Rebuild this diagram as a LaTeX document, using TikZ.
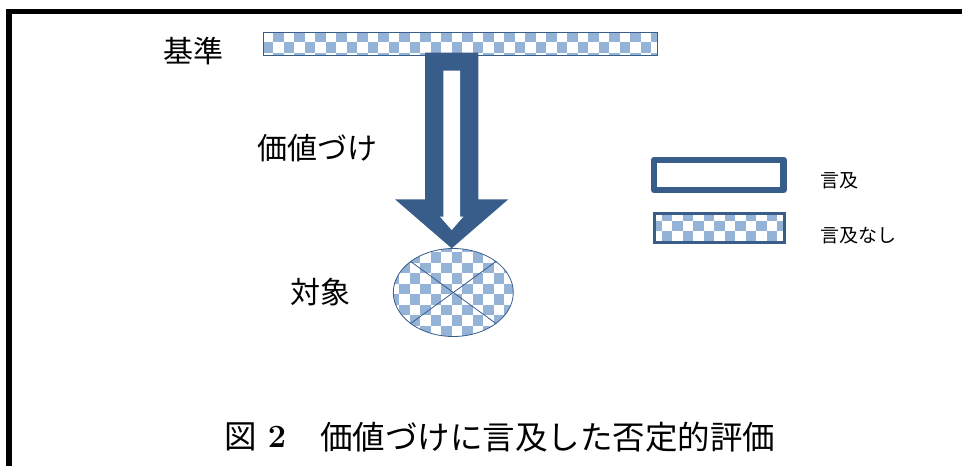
\documentclass[tikz,border=0pt]{standalone}
\usepackage{fontspec}
\newfontfamily\jp{Noto Sans CJK JP}
\usetikzlibrary{shapes.geometric}
\definecolor{dkblue}{HTML}{385D8A}
\definecolor{chk}{HTML}{95B3D7}
\newcommand\chkpic{%
  \path (path picture bounding box.south west); \pgfgetlastxy{\cxa}{\cya}%
  \path (path picture bounding box.north east); \pgfgetlastxy{\cxb}{\cyb}%
  \pgfmathtruncatemacro\chkia{floor(\cxa/10.5)-1}%
  \pgfmathtruncatemacro\chkib{ceil(\cxb/10.5)}%
  \pgfmathtruncatemacro\chkja{floor(\cya/10.5)-1}%
  \pgfmathtruncatemacro\chkjb{ceil(\cyb/10.5)}%
  \begin{pgfscope}\pgftransformreset
  \foreach \i in {\chkia,...,\chkib}{\foreach \j in {\chkja,...,\chkjb}{%
    \pgfmathtruncatemacro\chkpar{mod(\i+\j+200,2)}%
    \ifnum\chkpar=0 \fill[chk] (\i*10.5pt,\j*10.5pt) rectangle ++(10.5pt,10.5pt);\fi}}%
  \end{pgfscope}}
\begin{document}
\begin{tikzpicture}[x=1pt,y=-1pt,
  lbl/.style={inner sep=0pt, font=\jp\fontsize{30}{36}\selectfont},
  leg/.style={inner sep=0pt, anchor=west, font=\jp\fontsize{19}{22}\selectfont},
  capt/.style={inner sep=0pt, font=\jp\fontsize{32.5}{38}\selectfont},
  checkfill/.style={fill=white, path picture={\chkpic}}]
\useasboundingbox (0,0) rectangle (962,466);
\clip (0,0) rectangle (962,466);
% frame
\draw[line width=5.5pt] (9,480) -- (9,11.3) -- (980,11.3);
% standard bar
\node[draw=dkblue, line width=1pt, checkfill, minimum width=394pt, minimum height=23pt, inner sep=0pt] (kijun) at (460.7,44.3) {};
% object
\node[ellipse, draw=dkblue, line width=0.8pt, checkfill, minimum width=120pt, minimum height=88pt, inner sep=0pt] (obj) at (453.3,292.5) {};
\draw[dkblue, line width=0.8pt] (obj.36) -- (obj.216) (obj.144) -- (obj.324);
% block arrow
\fill[dkblue] (425,52.5) -- (478.3,52.5) -- (478.3,199.3) -- (508.3,199.3) -- (451.7,248.3) -- (395,199.3) -- (425,199.3) -- cycle;
\fill[white] (443.3,70.7) -- (460,70.7) -- (460,216.7) -- (463.3,216.7) -- (451.7,230) -- (440,216.7) -- (443.3,216.7) -- cycle;
% labels
\node[lbl] (lkijun) at (193,51) {基準};
\node[lbl] (lkachi) at (317.5,148) {価値づけ};
\node[lbl] (ltaisho) at (320,292.5) {対象};
% legend
\node[draw=dkblue, line width=6.3pt, line join=round, fill=white, minimum width=129.3pt, minimum height=30.4pt, inner sep=0pt] (legA) at (718.85,175) {};
\node[draw=dkblue, line width=3pt, checkfill, minimum width=130pt, minimum height=29.6pt, inner sep=0pt] (legB) at (719.2,228) {};
\node[leg] (tA) at (820,181) {言及};
\node[leg] (tB) at (820,236) {言及なし};
% caption
\node[capt] (fig) at (241,437) {図};
\node[inner sep=0pt, font=\fontsize{32.5}{38}\selectfont\bfseries] (num) at (277,437) {2};
\node[capt, anchor=west] (cap) at (320,437) {価値づけに言及した否定的評価};
\end{tikzpicture}
\end{document}
